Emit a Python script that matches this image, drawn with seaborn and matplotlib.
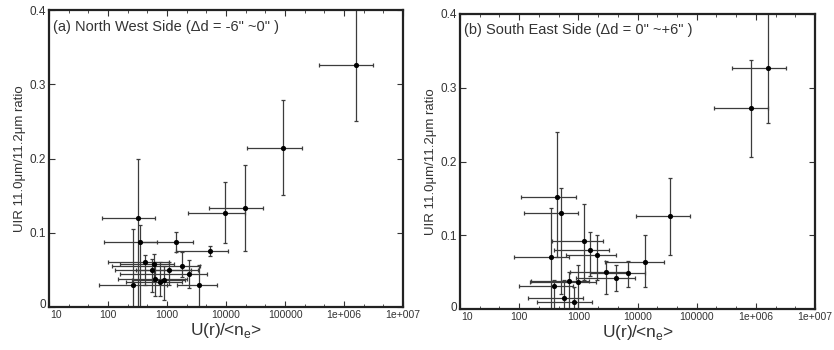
import numpy as np
import pandas as pd
import matplotlib
matplotlib.use("Agg")
import matplotlib.pyplot as plt
import matplotlib.ticker as mticker
import matplotlib.transforms as mtransforms
import seaborn as sns

# ---------------- data: (a) North West Side ----------------
nw_x   = [1.6e6, 9.3e4, 2.1e4, 9.6e3, 325, 350, 1400, 5400, 420, 600, 1800, 2400, 3500, 270, 550, 1100, 630, 900, 770]
nw_y   = [0.326, 0.214, 0.133, 0.127, 0.120, 0.087, 0.088, 0.075, 0.060, 0.058, 0.055, 0.044, 0.030, 0.029, 0.050, 0.050, 0.038, 0.036, 0.033]
nw_xlo = [3.8e5, 2.3e4, 5.1e3, 2.3e3, 80, 85, 350, 1400, 100, 160, 117, 160, 1500, 70, 130, 300, 150, 250, 200]
nw_xhi = [3.1e6, 1.95e5, 4.3e4, 2.1e4, 630, 680, 2750, 1.07e4, 1100, 1300, 3600, 4800, 7000, 1000, 3300, 2500, 2200, 2000, 1800]
nw_ylo = [0.250, 0.151, 0.075, 0.086, 0.000, 0.000, 0.074, 0.069, 0.030, 0.035, 0.040, 0.026, 0.000, 0.000, 0.020, 0.030, 0.015, 0.010, 0.015]
nw_yhi = [0.420, 0.279, 0.191, 0.168, 0.200, 0.110, 0.101, 0.082, 0.070, 0.072, 0.074, 0.063, 0.056, 0.105, 0.065, 0.060, 0.060, 0.055, 0.060]

# ---------------- data: (b) South East Side ----------------
se_x   = [1.6e6, 8.3e5, 440, 500, 3.6e4, 1230, 1600, 2100, 350, 1.35e4, 2950, 7000, 4400, 1000, 700, 390, 575, 850]
se_y   = [0.327, 0.272, 0.152, 0.130, 0.126, 0.092, 0.080, 0.073, 0.071, 0.064, 0.050, 0.049, 0.042, 0.036, 0.038, 0.031, 0.015, 0.010]
se_xlo = [4.0e5, 1.95e5, 107, 120, 9.3e3, 360, 390, 620, 81, 2800, 720, 1600, 900, 150, 160, 100, 140, 200]
se_xhi = [3.2e6, 1.6e6, 910, 1000, 7.6e4, 2600, 3300, 4400, 700, 2.8e4, 7000, 1.35e4, 9000, 2000, 1500, 800, 1200, 1700]
se_ylo = [0.252, 0.206, 0.070, 0.020, 0.073, 0.040, 0.045, 0.040, 0.000, 0.030, 0.020, 0.030, 0.025, 0.000, 0.000, 0.000, 0.000, 0.000]
se_yhi = [0.420, 0.338, 0.240, 0.164, 0.178, 0.142, 0.105, 0.100, 0.137, 0.100, 0.065, 0.065, 0.060, 0.060, 0.050, 0.040, 0.040, 0.030]

x_ticks = [10, 100, 1000, 10000, 100000, 1e6, 1e7]
x_tick_labels = ["10", "100", "1000", "10000", "100000", "1e+006", "1e+007"]
y_ticks = [0, 0.1, 0.2, 0.3, 0.4]
y_tick_labels = ["0", "0.1", "0.2", "0.3", "0.4"]

titles = ["(a) North West Side (\u0394d = -6\" ~0\" )",
          "(b) South East Side (\u0394d = 0\" ~+6\" )"]
ylabel = "UIR 11.0\u03bcm/11.2\u03bcm ratio"
xlabel = "U(r)/<n$_\\mathregular{e}$>"

sns.set_theme(style="ticks")
plt.rcParams["font.family"] = ["Liberation Sans", "DejaVu Sans"]
plt.rcParams["mathtext.fontset"] = "custom"
plt.rcParams["mathtext.rm"] = "Liberation Sans"

fig = plt.figure(figsize=(8.34, 3.5), dpi=100)
ax1 = fig.add_axes([0.0588, 0.123, 0.4245, 0.848])
ax2 = fig.add_axes([0.5516, 0.117, 0.4257, 0.843])

panels = [
    (ax1, nw_x, nw_y, nw_xlo, nw_xhi, nw_ylo, nw_yhi, titles[0], (0.012, 0.943)),
    (ax2, se_x, se_y, se_xlo, se_xhi, se_ylo, se_yhi, titles[1], (0.011, 0.946)),
]

for ax, x, y, xlo, xhi, ylo, yhi, title, tpos in panels:
    df = pd.DataFrame({"x": x, "y": y})
    xa, ya = np.array(x), np.array(y)
    xerr = [xa - np.array(xlo), np.array(xhi) - xa]
    yerr = [ya - np.array(ylo), np.array(yhi) - ya]
    ax.errorbar(xa, ya, xerr=xerr, yerr=yerr, fmt="none", ecolor="#3c3c3c",
                elinewidth=0.9, capsize=1.5, capthick=0.9, zorder=2)
    sns.scatterplot(data=df, x="x", y="y", ax=ax, color="black", s=14,
                    edgecolor="black", linewidth=0, zorder=3)
    ax.set_xscale("log")
    ax.set_xlim(10, 1e7)
    ax.set_ylim(0, 0.4)
    ax.set_xticks(x_ticks)
    ax.set_xticklabels(x_tick_labels, fontsize=7.5, color="#333333")
    ax.xaxis.set_minor_locator(mticker.LogLocator(base=10, subs=(2.15, 4.64), numticks=20))
    ax.xaxis.set_minor_formatter(mticker.NullFormatter())
    ax.set_yticks(y_ticks)
    ax.set_yticklabels(y_tick_labels, fontsize=8.5, color="#333333")
    ax.tick_params(axis="both", which="both", direction="in", top=True, right=True,
                   pad=2, color="#333333")
    ax.tick_params(axis="both", which="major", length=4, width=0.8)
    ax.tick_params(axis="both", which="minor", length=2.5, width=0.6)
    # keep corner labels "10" and "0" apart, as in the reference
    first_x = ax.get_xticklabels()[0]
    first_x.set_ha("left")
    first_x.set_transform(first_x.get_transform() +
                          mtransforms.ScaledTranslation(1 / 100, 0, fig.dpi_scale_trans))
    first_y = ax.get_yticklabels()[0]
    first_y.set_transform(first_y.get_transform() +
                          mtransforms.ScaledTranslation(0, 3 / 100, fig.dpi_scale_trans))
    for sp in ax.spines.values():
        sp.set_linewidth(1.6)
        sp.set_color("#222222")
    ax.set_xlabel(xlabel, fontsize=12.5, color="#333333", labelpad=1)
    ax.set_ylabel(ylabel, fontsize=9.5, color="#333333", labelpad=3)
    ax.text(tpos[0], tpos[1], title, transform=ax.transAxes, fontsize=10.5,
            color="#333333", ha="left", va="center")

fig.savefig("out.png", dpi=100)
